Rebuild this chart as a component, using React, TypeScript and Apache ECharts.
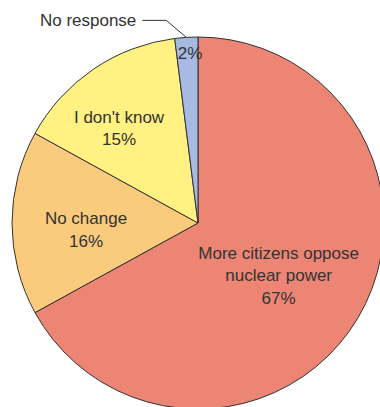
import React, { useEffect, useRef } from "react";
import * as echarts from "echarts";

const categories = [
  "More citizens oppose\nnuclear power",
  "No change",
  "I don't know",
  "No response",
];
const values = [67, 16, 15, 2];
const colors = ["#EC8573", "#FACB7D", "#FFF182", "#A6BAE2"];
const labelOffsets = [
  [-2, 4],
  [-16, 7],
  [-25, -15],
  [-2, -74],
];

export default function App() {
  const ref = useRef<HTMLDivElement>(null);
  useEffect(() => {
    document.body.style.margin = "0";
    const chart = echarts.init(ref.current!, undefined, { renderer: "svg" });
    const font = "'Liberation Sans', Arial, sans-serif";
    const baseData = categories.map((c, i) => ({
      name: c,
      value: values[i],
      itemStyle: { color: colors[i] },
    }));
    chart.setOption({
      animation: false,
      series: [
        {
          type: "pie",
          center: [198, 223],
          radius: 186,
          startAngle: 90,
          clockwise: true,
          avoidLabelOverlap: false,
          itemStyle: { borderColor: "#333", borderWidth: 1 },
          label: {
            show: true,
            position: "inside",
            color: "#333",
            fontSize: 17,
            fontFamily: font,
            lineHeight: 22.5,
            align: "center",
            formatter: (p: any) =>
              p.dataIndex === 3 ? `${p.value}%` : `${p.name}\n${p.value}%`,
          },
          labelLine: { show: false },
          emphasis: { disabled: true },
          data: baseData.map((d, i) => ({
            ...d,
            label: { offset: labelOffsets[i] },
          })),
        },
        {
          type: "pie",
          center: [198, 223],
          radius: 186,
          startAngle: 90,
          clockwise: true,
          silent: true,
          avoidLabelOverlap: false,
          itemStyle: { color: "transparent", borderWidth: 0 },
          label: { show: false },
          labelLine: { show: false },
          emphasis: { disabled: true },
          labelLayout: (params: any) => {
            const pts = params.labelLinePoints;
            if (!pts || params.dataIndex !== 3) return {};
            const p0 = pts[0];
            const p1 = [p0[0] - 20, p0[1] - 17];
            const p2 = [p0[0] - 44, p0[1] - 17];
            return {
              x: p2[0] - 6,
              y: p2[1],
              align: "right",
              verticalAlign: "middle",
              labelLinePoints: [p0, p1, p2],
            };
          },
          data: baseData.map((d, i) => ({
            name: d.name,
            value: d.value,
            itemStyle: { color: "transparent" },
            label:
              i === 3
                ? {
                    show: true,
                    position: "outside",
                    formatter: "No response",
                    color: "#333",
                    fontSize: 17,
                    fontFamily: font,
                  }
                : { show: false },
            labelLine:
              i === 3
                ? {
                    show: true,
                    length: 18,
                    length2: 24,
                    lineStyle: { color: "#333", width: 1 },
                  }
                : { show: false },
          })),
        },
      ],
    });
    return () => chart.dispose();
  }, []);
  return <div ref={ref} style={{ width: 380, height: 407 }} />;
}
